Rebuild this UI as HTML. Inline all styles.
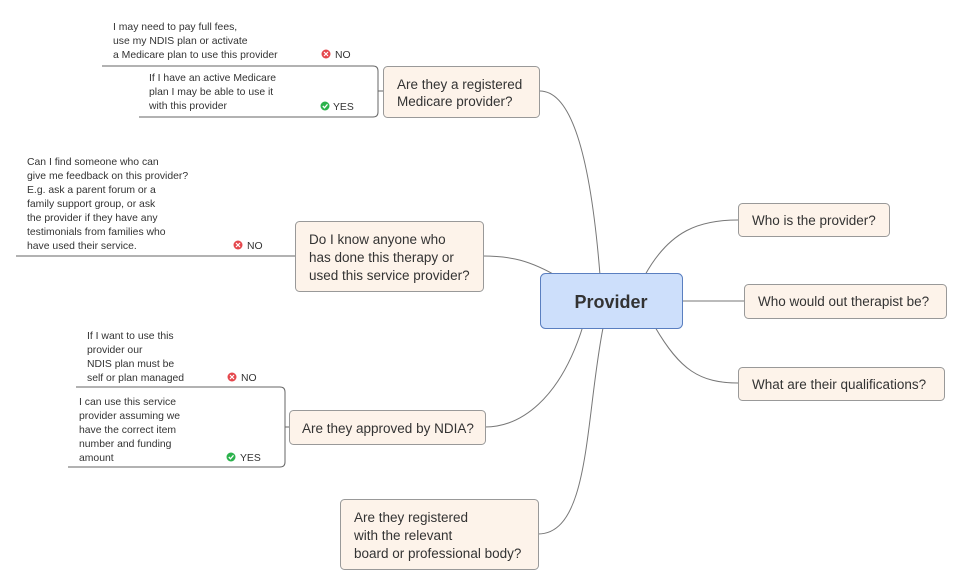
<!DOCTYPE html>
<html><head><meta charset="utf-8"><style>
body{margin:0;background:#fff}
svg{display:block}
text{font-family:"Liberation Sans",sans-serif;fill:#333}
.s{font-size:10.4px}
.b{font-size:13.5px}
</style></head><body>
<svg width="963" height="586" viewBox="0 0 963 586" xmlns="http://www.w3.org/2000/svg">
<g fill="none" stroke="#777" stroke-width="1">
<path d="M600 275 C590 150 570 90 539 91"/>
<path d="M560 278 C530 260 510 256 483 256"/>
<path d="M583 326 C560 400 520 427 485 427"/>
<path d="M603 328 C585 420 590 534 538 534"/>
<path d="M645 275 C670 230 700 220 738 220"/>
<path d="M682 301 L744 301"/>
<path d="M655 327 C680 370 700 383 738 383"/>
</g>
<g fill="none" stroke="#666" stroke-width="1">
<path d="M102 66 H373 Q378 66 378 71 V112 Q378 117 373 117 H139"/>
<path d="M378 91 H383"/>
<path d="M16 256 H295"/>
<path d="M76 387 H280 Q285 387 285 392 V462 Q285 467 280 467 H68"/>
<path d="M285 427 H289"/>
</g>
<g fill="#fdf3ea" stroke="#999" stroke-width="1">
<rect x="383.5" y="66.5" width="156" height="51" rx="4"/>
<rect x="295.5" y="221.5" width="188" height="70" rx="4"/>
<rect x="289.5" y="410.5" width="196" height="34" rx="4"/>
<rect x="340.5" y="499.5" width="198" height="70" rx="4"/>
<rect x="738.5" y="203.5" width="151" height="33" rx="4"/>
<rect x="744.5" y="284.5" width="202" height="34" rx="4"/>
<rect x="738.5" y="367.5" width="206" height="33" rx="4"/>
</g>
<rect x="540.5" y="273.5" width="142" height="55" rx="5" fill="#cddffb" stroke="#5a7fc0"/>
<text x="611" y="308" text-anchor="middle" style="font-size:18px;font-weight:bold;fill:#333">Provider</text>
<text class="b" x="397" y="89">Are they a registered</text>
<text class="b" x="397" y="106">Medicare provider?</text>
<text class="b" x="309" y="244">Do I know anyone who</text>
<text class="b" x="309" y="262">has done this therapy or</text>
<text class="b" x="309" y="280">used this service provider?</text>
<text class="b" x="302" y="433">Are they approved by NDIA?</text>
<text class="b" x="354" y="522">Are they registered</text>
<text class="b" x="354" y="540">with the relevant</text>
<text class="b" x="354" y="558">board or professional body?</text>
<text class="b" x="752" y="225">Who is the provider?</text>
<text class="b" x="758" y="306">Who would out therapist be?</text>
<text class="b" x="752" y="389">What are their qualifications?</text>
<g>
<text class="s" x="113" y="30">I may need to pay full fees,</text>
<text class="s" x="113" y="44">use my NDIS plan or activate</text>
<text class="s" x="113" y="58">a Medicare plan to use this provider</text>
<text class="s" x="335" y="58">NO</text>
<text class="s" x="149" y="81">If I have an active Medicare</text>
<text class="s" x="149" y="95">plan I may be able to use it</text>
<text class="s" x="149" y="109">with this provider</text>
<text class="s" x="333" y="110">YES</text>
<text class="s" x="27" y="165">Can I find someone who can</text>
<text class="s" x="27" y="179">give me feedback on this provider?</text>
<text class="s" x="27" y="193">E.g. ask a parent forum or a</text>
<text class="s" x="27" y="207">family support group, or ask</text>
<text class="s" x="27" y="221">the provider if they have any</text>
<text class="s" x="27" y="235">testimonials from families who</text>
<text class="s" x="27" y="249">have used their service.</text>
<text class="s" x="247" y="249">NO</text>
<text class="s" x="87" y="339">If I want to use this</text>
<text class="s" x="87" y="353">provider our</text>
<text class="s" x="87" y="367">NDIS plan must be</text>
<text class="s" x="87" y="381">self or plan managed</text>
<text class="s" x="241" y="381">NO</text>
<text class="s" x="79" y="405">I can use this service</text>
<text class="s" x="79" y="419">provider assuming we</text>
<text class="s" x="79" y="433">have the correct item</text>
<text class="s" x="79" y="447">number and funding</text>
<text class="s" x="79" y="461">amount</text>
<text class="s" x="240" y="461">YES</text>
</g>
<g>
<circle cx="326" cy="54" r="4.5" fill="#e5484d"/><path d="M324 52 L328 56 M328 52 L324 56" stroke="#fff" stroke-width="1.2"/>
<circle cx="238" cy="245" r="4.5" fill="#e5484d"/><path d="M236 243 L240 247 M240 243 L236 247" stroke="#fff" stroke-width="1.2"/>
<circle cx="232" cy="377" r="4.5" fill="#e5484d"/><path d="M230 375 L234 379 M234 375 L230 379" stroke="#fff" stroke-width="1.2"/>
<circle cx="325" cy="106" r="4.5" fill="#2bb24c"/><path d="M322.8 106 L324.5 107.8 L327.5 104.3" fill="none" stroke="#fff" stroke-width="1.3"/>
<circle cx="231" cy="457" r="4.5" fill="#2bb24c"/><path d="M228.8 457 L230.5 458.8 L233.5 455.3" fill="none" stroke="#fff" stroke-width="1.3"/>
</g>
</svg>
</body></html>
